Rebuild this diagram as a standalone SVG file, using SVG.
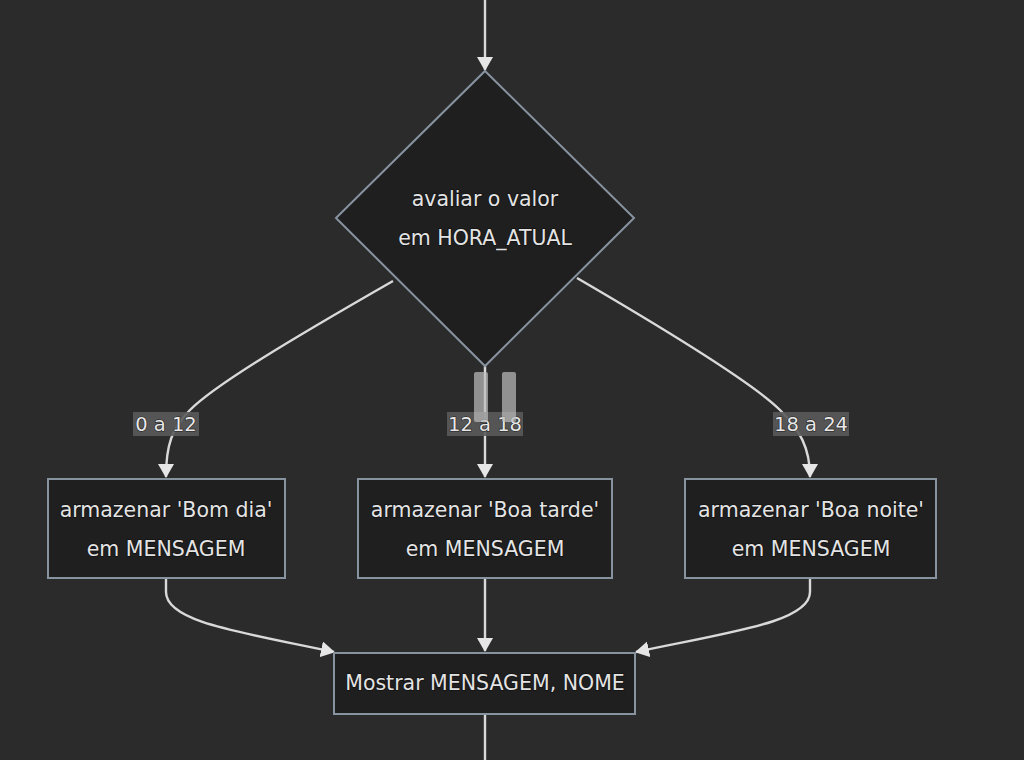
<svg xmlns="http://www.w3.org/2000/svg" width="1024" height="760" viewBox="0 0 1024 760">
<defs>
<style>
.bg{fill:#2b2b2b}
.node{fill:#1f1f20;stroke:#8893a0;stroke-width:2}
.t{font-family:"DejaVu Sans","Liberation Sans",sans-serif;font-size:20.5px;fill:#e4e4e4;text-anchor:middle;dominant-baseline:central;stroke:#111;stroke-width:1.5px;paint-order:stroke}
.edge{fill:none;stroke:#d9d9d9;stroke-width:2.4}
.lblbg{fill:#5a5a5a;opacity:0.9}
.lbl{font-family:"DejaVu Sans","Liberation Sans",sans-serif;font-size:19.5px;fill:#e8e8e8;text-anchor:middle;dominant-baseline:central;stroke:#222;stroke-width:1.2px;paint-order:stroke}
</style>
<marker id="arr" viewBox="0 0 14 16" refX="13" refY="8" markerWidth="14" markerHeight="16" markerUnits="userSpaceOnUse" orient="auto">
<path d="M0,0 L14,8 L0,16 z" fill="#e6e6e6"/>
</marker>
</defs>
<rect class="bg" x="0" y="0" width="1024" height="760"/>
<g id="connectors">
<path class="edge" d="M485,0 L485,70" marker-end="url(#arr)"/>
<path class="edge" d="M393,281 C290,340 215,385 190,410 C172,428 166,445 166,477" marker-end="url(#arr)"/>
<path class="edge" d="M485,366 L485,477" marker-end="url(#arr)"/>
<path class="edge" d="M577,278 C680,338 755,385 780,410 C800,430 810,448 810,477" marker-end="url(#arr)"/>
<path class="edge" d="M166,579 L166,592 C166,622 240,632 334,652" marker-end="url(#arr)"/>
<path class="edge" d="M485,579 L485,651" marker-end="url(#arr)"/>
<path class="edge" d="M810,579 L810,592 C810,622 730,632 636,652" marker-end="url(#arr)"/>
<path class="edge" d="M485,715 L485,760"/>
</g>
<g id="labels">
<rect class="lblbg" x="133" y="412" width="66" height="24"/>
<text class="lbl" x="166" y="424">0 a 12</text>
<rect class="lblbg" x="447" y="412" width="76" height="24"/>
<text class="lbl" x="485" y="424">12 a 18</text>
<rect class="lblbg" x="773" y="412" width="76" height="24"/>
<text class="lbl" x="811" y="424">18 a 24</text>
</g>
<g id="decision">
<polygon class="node" points="485,71 634,218 485,366 336,218"/>
<text class="t" x="485" y="199">avaliar o valor</text>
<text class="t" x="485" y="238">em HORA_ATUAL</text>
</g>
<g id="bomdia">
<rect class="node" x="48" y="479" width="237" height="99"/>
<text class="t" x="166" y="510">armazenar 'Bom dia'</text>
<text class="t" x="166" y="549">em MENSAGEM</text>
</g>
<g id="boatarde">
<rect class="node" x="358" y="479" width="254" height="99"/>
<text class="t" x="485" y="510">armazenar 'Boa tarde'</text>
<text class="t" x="485" y="549">em MENSAGEM</text>
</g>
<g id="boanoite">
<rect class="node" x="685" y="479" width="251" height="99"/>
<text class="t" x="811" y="510">armazenar 'Boa noite'</text>
<text class="t" x="811" y="549">em MENSAGEM</text>
</g>
<g id="mostrar">
<rect class="node" x="334" y="653" width="301" height="61"/>
<text class="t" x="485" y="683">Mostrar MENSAGEM, NOME</text>
</g>
<g id="pause" opacity="0.7">
<rect x="474" y="372" width="14" height="50" rx="2" fill="#bdbdbd"/>
<rect x="502" y="372" width="14" height="50" rx="2" fill="#bdbdbd"/>
</g>
</svg>
